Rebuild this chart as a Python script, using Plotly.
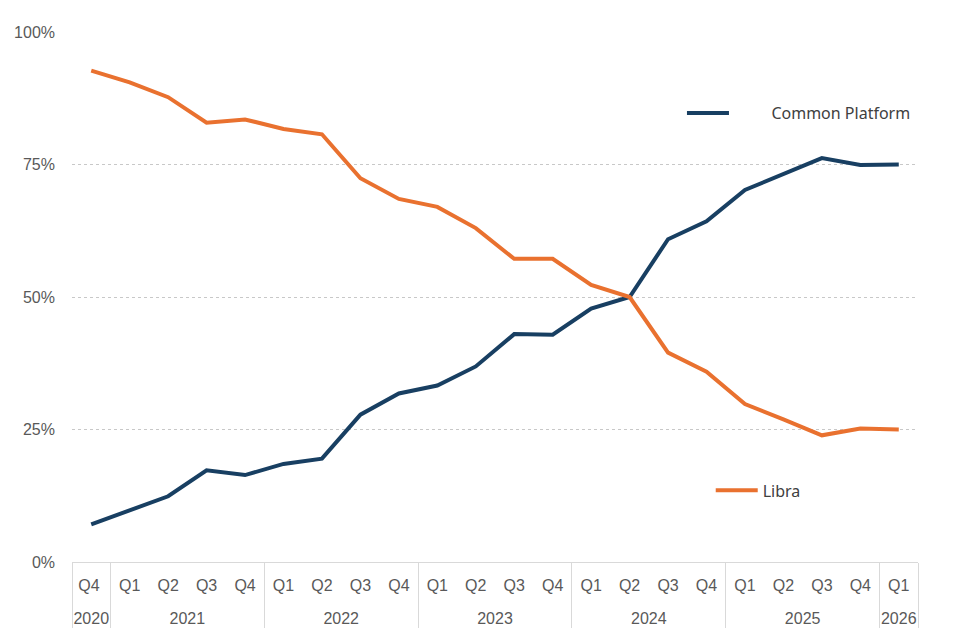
import plotly.graph_objects as go

# quarters Q4 2020 .. Q1 2026 (first label carries a trailing space so plotly
# doesn't pull Q4 to the front of every later year)
year_labels = ["2020"] + ["2021"] * 4 + ["2022"] * 4 + ["2023"] * 4 + ["2024"] * 4 + ["2025"] * 4 + ["2026"]
quarter_labels = ["Q4 "] + ["Q1", "Q2", "Q3", "Q4"] * 5 + ["Q1"]

# share of cases (%)
common_platform = [7.1, 9.7, 12.4, 17.3, 16.4, 18.5, 19.5, 27.8, 31.8, 33.3, 36.9,
                   43.0, 42.9, 47.8, 50.0, 60.9, 64.3, 70.2, 73.3, 76.2, 74.9, 75.0]
libra = [92.7, 90.5, 87.7, 82.9, 83.5, 81.7, 80.7, 72.4, 68.5, 67.0, 63.0,
         57.2, 57.2, 52.3, 50.0, 39.5, 35.9, 29.8, 26.9, 23.9, 25.2, 25.0]

y_ticks = [0, 25, 50, 75, 100]
y_tick_text = ["0%", "25%", "50%", "75%", "100%"]

blue = "#183F62"
orange = "#E9712F"
grey_text = "#595959"

# blank (slightly taller) second line under each quarter pushes the year row down
spacer = "<br><span style='font-size:22px'> </span>"
x = [year_labels, [q + spacer for q in quarter_labels]]

fig = go.Figure()
fig.add_trace(go.Scatter(x=x, y=common_platform, mode="lines",
                         name="\u00a0" * 9 + "Common Platform",
                         line=dict(color=blue, width=4), legend="legend"))
fig.add_trace(go.Scatter(x=x, y=libra, mode="lines", name="Libra",
                         line=dict(color=orange, width=4), legend="legend2"))

# the page body adds 8px at top/left, margins are set to allow for it
fig.update_layout(
    width=960, height=640,
    margin=dict(l=64, r=50, t=24, b=86),
    showlegend=True,
    plot_bgcolor="white", paper_bgcolor="white",
    font=dict(family="Liberation Sans, Arial, sans-serif", color=grey_text, size=16),
    legend=dict(x=0.721, y=0.847, xanchor="left", yanchor="middle",
                bgcolor="rgba(0,0,0,0)", itemwidth=42,
                font=dict(family="Noto Sans, sans-serif", size=16, color="#404040")),
    legend2=dict(x=0.755, y=0.135, xanchor="left", yanchor="middle",
                 bgcolor="rgba(0,0,0,0)", itemwidth=42,
                 font=dict(family="Noto Sans, sans-serif", size=16, color="#404040")),
)

fig.update_yaxes(
    range=[0, 100], tickvals=y_ticks, ticktext=y_tick_text,
    showgrid=True, gridcolor="#C8C8C8", griddash="dot", gridwidth=1,
    zeroline=False, showline=False, ticks="", ticklabelstandoff=16,
    tickfont=dict(size=16, color=grey_text), automargin=False,
)
fig.update_xaxes(
    type="multicategory", range=[-0.5, len(libra) - 0.5], showgrid=False,
    showline=True, linecolor="#D9D9D9", linewidth=1,
    showdividers=True, dividercolor="#D9D9D9", dividerwidth=1,
    ticks="", ticklabelstandoff=9, automargin=False,
    tickfont=dict(family="Liberation Sans Narrow, Liberation Sans, Arial, sans-serif",
                  size=16, color=grey_text),
)

fig.write_html("out.html")
